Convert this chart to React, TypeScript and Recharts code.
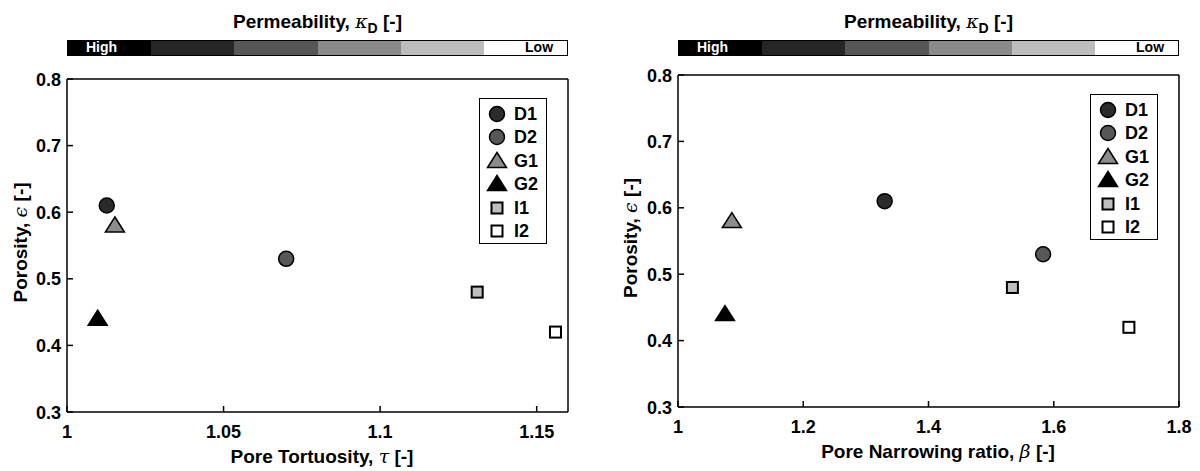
import React from 'react';
import { ScatterChart, Scatter, XAxis, YAxis } from 'recharts';

// sample names and measured values
const samples = ['D1', 'D2', 'G1', 'G2', 'I1', 'I2'];
const porosity = [0.61, 0.53, 0.58, 0.44, 0.48, 0.42];
const tortuosity = [1.0127, 1.07, 1.0153, 1.0098, 1.131, 1.156];
const narrowingRatio = [1.33, 1.583, 1.086, 1.075, 1.534, 1.72];

const markerShapes = ['circle', 'circle', 'triangle', 'triangle', 'square', 'square'];
const markerFills = ['#2b2b2b', '#575757', '#8c8c8c', '#000000', '#bfbfbf', '#ffffff'];

// colour bar, high -> low permeability
const permeabilityColors = ['#000000', '#262626', '#575757', '#8a8a8a', '#bdbdbd', '#ffffff'];

const porosityTicks = [0.3, 0.4, 0.5, 0.6, 0.7, 0.8];
const tortuosityTicks = [1, 1.05, 1.1, 1.15];
const narrowingTicks = [1, 1.2, 1.4, 1.6, 1.8];

const FONT = '"Liberation Sans", Arial, Helvetica, sans-serif';
const GREEK = '"DejaVu Serif", "Liberation Serif", serif';

function Marker({ shape, fill, cx, cy }: { shape: string; fill: string; cx: number; cy: number }) {
    if (shape === 'circle') {
        return <circle cx={cx} cy={cy} r={7.5} fill={fill} stroke="#000" strokeWidth={1.5} />;
    }
    if (shape === 'triangle') {
        return (
            <polygon
                points={`${cx},${cy - 8.5} ${cx - 9.5},${cy + 6.5} ${cx + 9.5},${cy + 6.5}`}
                fill={fill}
                stroke="#000"
                strokeWidth={1.5}
                strokeLinejoin="miter"
            />
        );
    }
    return <rect x={cx - 5.5} y={cy - 5.5} width={11} height={11} fill={fill} stroke="#000" strokeWidth={2} />;
}

const BottomTick = ({ x, y, payload }: any) => (
    <g>
        <line x1={x} y1={y} x2={x} y2={y - 6} stroke="#000" strokeWidth={1.5} />
        <text x={x} y={y + 26} textAnchor="middle" fontSize={18} fontWeight="bold" fontFamily={FONT} fill="#000">
            {payload.value}
        </text>
    </g>
);

const TopTick = ({ x, y }: any) => <line x1={x} y1={y} x2={x} y2={y + 6} stroke="#000" strokeWidth={1.5} />;

const LeftTick = ({ x, y, payload }: any) => (
    <g>
        <line x1={x} y1={y} x2={x + 6} y2={y} stroke="#000" strokeWidth={1.5} />
        <text x={x - 6} y={y + 6.5} textAnchor="end" fontSize={18} fontWeight="bold" fontFamily={FONT} fill="#000">
            {payload.value}
        </text>
    </g>
);

const RightTick = ({ x, y }: any) => <line x1={x} y1={y} x2={x - 6} y2={y} stroke="#000" strokeWidth={1.5} />;

interface PanelProps {
    left: number;
    plot: { left: number; right: number; top: number; bottom: number };
    xValues: number[];
    xDomain: [number, number];
    xTicks: number[];
    xLabel: string;
    xGreek: string;
    xLabelCenter: number;
    yLabelX: number;
}

function Panel({ left, plot, xValues, xDomain, xTicks, xLabel, xGreek, xLabelCenter, yLabelX }: PanelProps) {
    const W = 600;
    const H = 471;
    const yAxisWidth = plot.left - left;
    const xAxisHeight = H - plot.bottom;
    const plotCenterY = (plot.top + plot.bottom) / 2;

    return (
        <div style={{ position: 'absolute', left, top: 0, width: W, height: H }}>
            {/* colour bar title */}
            <div
                style={{
                    position: 'absolute',
                    left: plot.left - left,
                    width: plot.right - plot.left,
                    top: 10,
                    textAlign: 'center',
                    fontFamily: FONT,
                    fontWeight: 'bold',
                    fontSize: 19,
                    lineHeight: '22px',
                    whiteSpace: 'nowrap',
                }}
            >
                Permeability, <span style={{ fontFamily: GREEK, fontStyle: 'italic', fontWeight: 'normal' }}>κ</span>
                <sub style={{ fontSize: 14, verticalAlign: -5 }}>D</sub> [-]
            </div>
            {/* colour bar */}
            <div
                style={{
                    position: 'absolute',
                    left: plot.left - left,
                    width: plot.right - plot.left,
                    top: 40,
                    height: 16,
                    display: 'flex',
                    border: '1.5px solid #000',
                    boxSizing: 'border-box',
                }}
            >
                {permeabilityColors.map((c, i) => (
                    <div key={i} style={{ flex: 1, background: c, position: 'relative' }}>
                        {i === 0 && (
                            <span style={{ position: 'absolute', left: 18, top: -2, color: '#fff', fontFamily: FONT, fontWeight: 'bold', fontSize: 14 }}>
                                High
                            </span>
                        )}
                        {i === permeabilityColors.length - 1 && (
                            <span style={{ position: 'absolute', right: 14, top: -2, color: '#000', fontFamily: FONT, fontWeight: 'bold', fontSize: 14 }}>
                                Low
                            </span>
                        )}
                    </div>
                ))}
            </div>

            <div style={{ position: 'absolute', left: 0, top: 0 }}>
                <ScatterChart
                    width={W}
                    height={H}
                    margin={{ top: plot.top - 1, right: W - (plot.right - left) - 1, left: 0, bottom: 0 }}
                >
                    <XAxis
                        xAxisId="bottom"
                        type="number"
                        dataKey="x"
                        domain={xDomain}
                        ticks={xTicks}
                        interval={0}
                        height={xAxisHeight}
                        tickSize={0}
                        tickMargin={0}
                        tick={<BottomTick />}
                        axisLine={{ stroke: '#000', strokeWidth: 1.5 }}
                        label={{
                            content: () => (
                                <text
                                    x={xLabelCenter - left}
                                    y={plot.bottom + 51}
                                    textAnchor="middle"
                                    fontSize={19}
                                    fontWeight="bold"
                                    fontFamily={FONT}
                                    fill="#000"
                                >
                                    {xLabel}
                                    <tspan fontFamily={GREEK} fontStyle="italic" fontWeight="normal">
                                        {xGreek}
                                    </tspan>{' '}
                                    [-]
                                </text>
                            ),
                        }}
                    />
                    <XAxis
                        xAxisId="top"
                        orientation="top"
                        type="number"
                        domain={xDomain}
                        ticks={xTicks}
                        interval={0}
                        height={1}
                        tickSize={0}
                        tickMargin={0}
                        tick={<TopTick />}
                        axisLine={{ stroke: '#000', strokeWidth: 1.5 }}
                    />
                    <YAxis
                        yAxisId="left"
                        type="number"
                        dataKey="y"
                        domain={[0.3, 0.8]}
                        ticks={porosityTicks}
                        interval={0}
                        width={yAxisWidth}
                        tickSize={0}
                        tickMargin={0}
                        tick={<LeftTick />}
                        axisLine={{ stroke: '#000', strokeWidth: 1.5 }}
                        label={{
                            content: () => (
                                <text
                                    x={yLabelX}
                                    y={plotCenterY - 3}
                                    transform={`rotate(-90 ${yLabelX} ${plotCenterY - 3})`}
                                    textAnchor="middle"
                                    fontSize={19}
                                    fontWeight="bold"
                                    fontFamily={FONT}
                                    fill="#000"
                                >
                                    Porosity,{' '}
                                    <tspan fontFamily={GREEK} fontStyle="italic" fontWeight="normal">
                                        ϵ
                                    </tspan>{' '}
                                    [-]
                                </text>
                            ),
                        }}
                    />
                    <YAxis
                        yAxisId="right"
                        orientation="right"
                        type="number"
                        domain={[0.3, 0.8]}
                        ticks={porosityTicks}
                        interval={0}
                        width={1}
                        tickSize={0}
                        tickMargin={0}
                        tick={<RightTick />}
                        axisLine={{ stroke: '#000', strokeWidth: 1.5 }}
                    />
                    {samples.map((name, i) => (
                        <Scatter
                            key={name}
                            name={name}
                            xAxisId="bottom"
                            yAxisId="left"
                            data={[{ x: xValues[i], y: porosity[i] }]}
                            isAnimationActive={false}
                            shape={(p: any) => <Marker shape={markerShapes[i]} fill={markerFills[i]} cx={p.cx} cy={p.cy} />}
                        />
                    ))}
                </ScatterChart>
            </div>

            {/* legend */}
            <div
                style={{
                    position: 'absolute',
                    left: plot.right - left - 89,
                    top: plot.top + 19,
                    width: 68,
                    height: 146,
                    border: '1.5px solid #000',
                    boxSizing: 'border-box',
                    background: '#fff',
                    paddingTop: 3,
                }}
            >
                {samples.map((name, i) => (
                    <div key={name} style={{ height: 23.5, display: 'flex', alignItems: 'center' }}>
                        <svg width={34} height={22} style={{ display: 'block' }}>
                            <Marker shape={markerShapes[i]} fill={markerFills[i]} cx={17} cy={11} />
                        </svg>
                        <span style={{ fontFamily: FONT, fontWeight: 'bold', fontSize: 18, lineHeight: '22px' }}>{name}</span>
                    </div>
                ))}
            </div>
        </div>
    );
}

export default function App() {
    return (
        <div style={{ position: 'absolute', left: 0, top: 0, width: 1200, height: 471, background: '#fff', overflow: 'hidden' }}>
            <Panel
                left={0}
                plot={{ left: 67, right: 568, top: 79, bottom: 412 }}
                xValues={tortuosity}
                xDomain={[1, 1.16]}
                xTicks={tortuosityTicks}
                xLabel="Pore Tortuosity, "
                xGreek="τ"
                xLabelCenter={322}
                yLabelX={27}
            />
            <Panel
                left={600}
                plot={{ left: 678, right: 1179, top: 75, bottom: 407 }}
                xValues={narrowingRatio}
                xDomain={[1, 1.8]}
                xTicks={narrowingTicks}
                xLabel="Pore Narrowing ratio, "
                xGreek="β"
                xLabelCenter={938}
                yLabelX={37}
            />
        </div>
    );
}
